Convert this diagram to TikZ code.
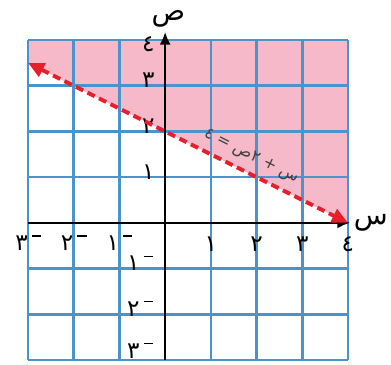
\documentclass[tikz,border=0pt]{standalone}
\usepackage{fontspec}
\usepackage{tikz}
\usetikzlibrary{arrows.meta}
\newfontfamily\arabicfont[Script=Arabic]{DejaVu Sans}
\TeXXeTstate=1
\definecolor{GridBlue}{HTML}{4B93CB}
\definecolor{RegionPink}{HTML}{F6B9C9}
\definecolor{LineRed}{HTML}{E5202A}
\newcommand{\negnum}[1]{#1\,\rule[1.1ex]{0.4em}{0.7pt}}

\begin{document}
\begin{tikzpicture}[
  numlabel/.style={font=\arabicfont\Large, inner sep=0pt},
  axislabel/.style={font=\arabicfont\LARGE, inner sep=0pt},
  ]
  \useasboundingbox (-3.614,-3.11) rectangle (4.943,4.877);

  % shaded half-plane above the boundary line
  \coordinate (lineL) at (-3,3.5);
  \coordinate (lineR) at (4,0);
  \fill[RegionPink] (lineL) -- (-3,4) -- (4,4) -- (lineR) -- cycle;

  \draw[GridBlue, line width=1.6pt] (-3,-3) grid (4,4);

  % axes
  \coordinate (xstart) at (-3,0);
  \coordinate (xend) at (4.05,0);
  \coordinate (ystart) at (0,-3);
  \coordinate (yend) at (0,4.18);
  \draw[line width=1.6pt, -{Latex[length=8pt,width=7pt]}] (xstart) -- (xend);
  \draw[line width=1.6pt, -{Latex[length=8pt,width=7pt]}] (ystart) -- (yend);
  \node[axislabel] (xname) at (4.5,0) {س};
  \node[axislabel] (yname) at (0.07,4.47) {ص};

  \foreach \n/\d in {1/١,2/٢,3/٣,4/٤} {
    \node[numlabel] (xpos\n) at (\n,-0.46) {\d};
  }
  \foreach \n/\d in {1/١,2/٢} {
    \node[numlabel] (yneg\n) at (-0.55,-\n+0.12) {\negnum{\d}};
  }
  \foreach \n/\d in {1/١,2/٢,3/٣} {
    \node[numlabel] (ypos\n) at (-0.37,\n+0.12) {\d};
    \node[numlabel] (xneg\n) at (-\n,-0.44) {\negnum{\d}};
  }
  \node[numlabel] (ypos4) at (-0.37,3.9) {٤};
  \node[numlabel] (yneg3) at (-0.55,-2.8) {\negnum{٣}};

  % boundary line x + 2y = 4
  \draw[LineRed, line width=2.4pt, dash pattern=on 5pt off 3pt,
    {Triangle[length=10pt,width=9pt]}-{Triangle[length=10pt,width=9pt]}]
    (lineL) -- (lineR)
    node[pos=0.675, sloped, above=1pt, text=black!75, font=\arabicfont] (eqn)
    {\beginR س + ٢ص = ٤\endR};
\end{tikzpicture}
\end{document}
